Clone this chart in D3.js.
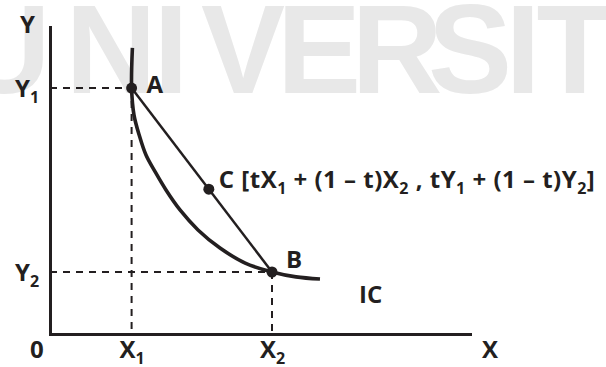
<!DOCTYPE html>
<html>
<head>
<meta charset="utf-8">
<script src="https://cdn.jsdelivr.net/npm/d3@7"></script>
<style>
  body { margin: 0; background: #fff; }
  text { font-family: "Open Sans", Lato, sans-serif; font-weight: bold; fill: #231f20; }
</style>
</head>
<body>
<svg id="chart"></svg>
<script>
// indifference curve (data units)
const icX = [2.06, 2.04, 2.10, 2.23, 2.40, 2.63, 2.90, 3.25, 3.70, 4.25, 4.88, 5.55, 6.15, 6.75];
const icY = [9.32, 8.01, 7.13, 6.48, 5.83, 5.28, 4.69, 4.04, 3.39, 2.80, 2.31, 2.02, 1.86, 1.79];

// the two bundles on the curve
const pointNames = ['A', 'B'];
const pointX = [2.04, 5.55];
const pointY = [8.01, 2.02];

// weight t for the mixed bundle C
const tC = 0.45;

const xTickLabels = [['X', '1'], ['X', '2']];
const yTickLabels = [['Y', '1'], ['Y', '2']];
const watermark = ['U', 'N', 'I', 'V', 'E', 'R', 'S', 'I', 'T', 'Y'];

const width = 606, height = 367;
const ink = '#231f20';

const svg = d3.select('#chart')
    .attr('width', width)
    .attr('height', height);

// faint watermark behind the figure
const wmCenters = [5, 111, 171, 243, 319, 397, 470, 523, 575, 650];
svg.append('g')
    .selectAll('text')
    .data(watermark)
    .join('text')
    .attr('x', (d, i) => wmCenters[i])
    .attr('y', 93)
    .attr('text-anchor', 'middle')
    .style('font-family', '"Liberation Sans", Arial, sans-serif')
    .style('font-size', '126px')
    .style('fill', '#e8e8e8')
    .text(d => d);

const xscale = d3.scaleLinear().domain([0, 10.5]).range([50, 470]);
const yscale = d3.scaleLinear().domain([0, 10]).range([334, 27]);

const chart = svg.append('g');

// axes: bare lines, no ticks
const xaxis = d3.axisBottom(xscale).tickValues([]).tickSizeOuter(0);
const yaxis = d3.axisLeft(yscale).tickValues([]).tickSizeOuter(0);

chart.append('g')
    .attr('transform', `translate(0, ${yscale(0)})`)
    .call(xaxis)
    .select('.domain')
    .attr('stroke', ink)
    .attr('stroke-width', 3)
    .attr('stroke-linecap', 'square');

chart.append('g')
    .attr('transform', `translate(${xscale(0)}, 0)`)
    .call(yaxis)
    .select('.domain')
    .attr('stroke', ink)
    .attr('stroke-width', 3)
    .attr('stroke-linecap', 'square');

// dashed guides from A and B to the axes
const guides = chart.append('g')
    .attr('stroke', ink)
    .attr('stroke-width', 2)
    .attr('stroke-dasharray', '7,6')
    .attr('fill', 'none');

pointX.forEach((px, i) => {
    guides.append('line')
        .attr('x1', xscale(0)).attr('x2', xscale(px))
        .attr('y1', yscale(pointY[i])).attr('y2', yscale(pointY[i]));
    guides.append('line')
        .attr('x1', xscale(px)).attr('x2', xscale(px))
        .attr('y1', yscale(pointY[i])).attr('y2', yscale(0));
});

// the curve
const icData = icX.map((d, i) => [d, icY[i]]);
const line = d3.line()
    .x(d => xscale(d[0]))
    .y(d => yscale(d[1]))
    .curve(d3.curveCatmullRom.alpha(0.5));

chart.append('path')
    .attr('d', line(icData))
    .attr('stroke', ink)
    .attr('stroke-width', 3.6)
    .attr('fill', 'none');

// chord A-B
chart.append('line')
    .attr('x1', xscale(pointX[0])).attr('y1', yscale(pointY[0]))
    .attr('x2', xscale(pointX[1])).attr('y2', yscale(pointY[1]))
    .attr('stroke', ink)
    .attr('stroke-width', 2.5);

const cX = tC * pointX[0] + (1 - tC) * pointX[1];
const cY = tC * pointY[0] + (1 - tC) * pointY[1];
const dots = [[pointX[0], pointY[0]], [pointX[1], pointY[1]], [cX, cY]];

chart.selectAll('circle')
    .data(dots)
    .join('circle')
    .attr('cx', d => xscale(d[0]))
    .attr('cy', d => yscale(d[1]))
    .attr('r', 5.5)
    .attr('fill', ink);

// text helper: parts are plain strings or ['sub', '1'] for a subscript
const fs = 24, subfs = 16, subdy = 6;
function subLabel(g, x, y, parts) {
    const t = g.append('text')
        .attr('x', x).attr('y', y)
        .style('font-size', fs + 'px');
    let shift = 0;
    parts.forEach(p => {
        if (Array.isArray(p)) {
            t.append('tspan').attr('dy', subdy - shift).style('font-size', subfs + 'px').text(p[1]);
            shift = subdy;
        } else {
            t.append('tspan').attr('dy', -shift).text(p);
            shift = 0;
        }
    });
    return t;
}

// axis names
chart.append('text').attr('x', 20).attr('y', 33).style('font-size', fs + 'px').text('Y');
chart.append('text').attr('x', 482).attr('y', 358).style('font-size', fs + 'px').text('X');
chart.append('text').attr('x', 30).attr('y', 358).style('font-size', fs + 'px').text('0');

// labels at X1, X2 and Y1, Y2
xTickLabels.forEach((l, i) => {
    subLabel(chart, xscale(pointX[i]) - 12, 358, [l[0], ['sub', l[1]]]);
});
yTickLabels.forEach((l, i) => {
    subLabel(chart, 15, yscale(pointY[i]) + 9, [l[0], ['sub', l[1]]]);
});

// point labels
chart.append('text')
    .attr('x', xscale(pointX[0]) + 15).attr('y', yscale(pointY[0]) + 5)
    .style('font-size', fs + 'px').text(pointNames[0]);
chart.append('text')
    .attr('x', xscale(pointX[1]) + 14).attr('y', yscale(pointY[1]) - 4)
    .style('font-size', fs + 'px').text(pointNames[1]);

subLabel(chart, xscale(cX) + 10, yscale(cY) - 1, [
    'C [tX', ['sub', '1'], ' + (1 \u2013 t)X', ['sub', '2'], ' , tY', ['sub', '1'],
    ' + (1 \u2013 t)Y', ['sub', '2'], ']'
]).attr('textLength', 376).attr('lengthAdjust', 'spacing');

chart.append('text')
    .attr('x', xscale(icX[icX.length - 1]) + 39).attr('y', yscale(icY[icY.length - 1]) + 24)
    .style('font-size', fs + 'px').text('IC');
</script>
</body>
</html>
